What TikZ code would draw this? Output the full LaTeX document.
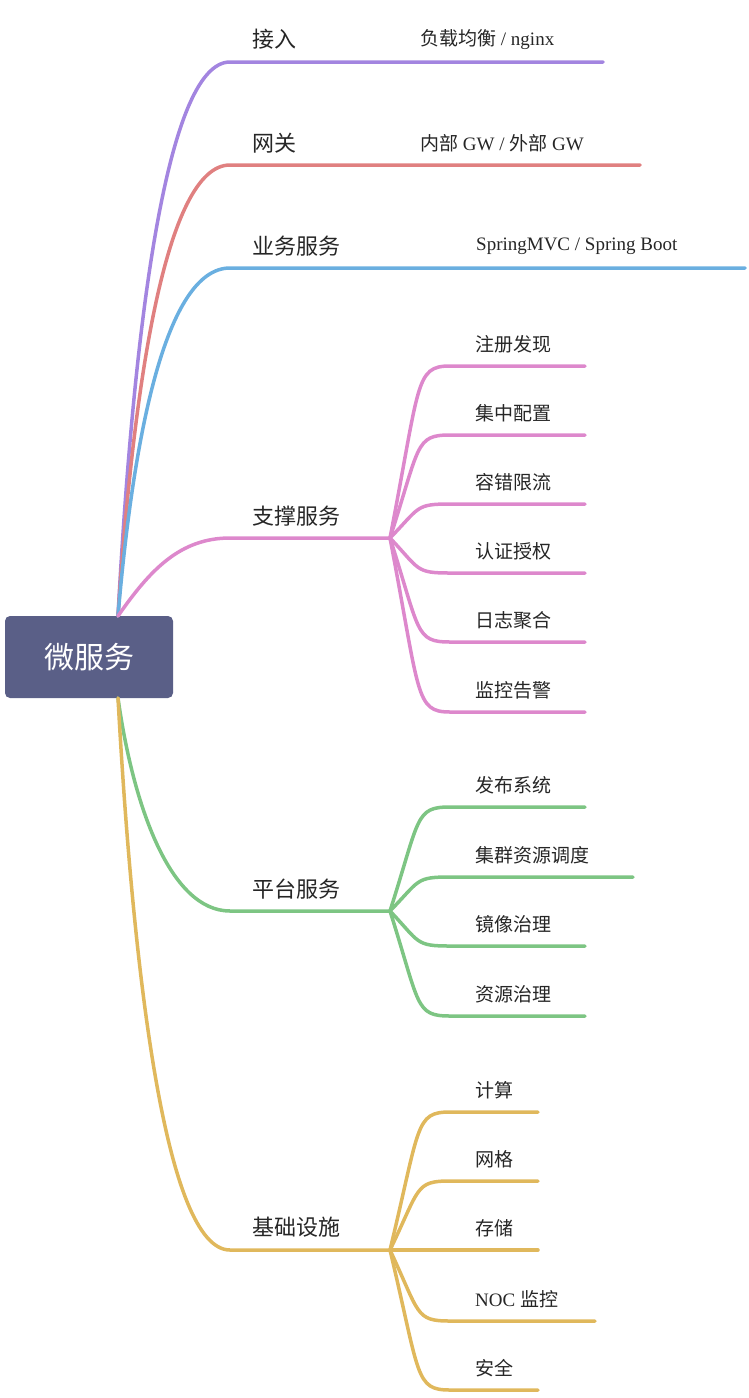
\documentclass[tikz,border=0pt]{standalone}
\usepackage{fontspec}
\setmainfont{Liberation Serif}
\newfontfamily\cjk{Noto Sans CJK SC}
\definecolor{cP}{HTML}{A385E0}
\definecolor{cR}{HTML}{E08080}
\definecolor{cB}{HTML}{6AAFE0}
\definecolor{cK}{HTML}{DD88CC}
\definecolor{cG}{HTML}{7DC583}
\definecolor{cY}{HTML}{E0B85C}
\definecolor{cRoot}{HTML}{5A5F87}
\begin{document}
\begin{tikzpicture}[x=1pt,y=-1pt,
  br/.style={line width=3.5pt,line cap=round},
  lone/.style={font=\cjk\fontsize{22}{24}\selectfont,anchor=south west,inner sep=0pt,text=black!85},
  ltwo/.style={font=\fontsize{19}{22}\selectfont,anchor=south west,inner sep=0pt,text=black!85}]
\useasboundingbox (0,0) rectangle (748,1398);
\node[fill=cRoot,rounded corners=5pt,minimum width=168pt,minimum height=82pt,text=white,font=\cjk\fontsize{30}{34}\selectfont] (root) at (89,657) {微服务};
\coordinate (s1) at (118,616); \coordinate (s2) at (118,698);
\newcommand\lone[5]{%
  \coordinate (#1a) at (230,#3); \coordinate (#1b) at (#5,#3);
  \node[lone] (#1) at ({252},{#3-12}) {#4};
}
\lone{jr}{cP}{62}{接入}{603}
\lone{wg}{cR}{165}{网关}{640}
\lone{yw}{cB}{268}{业务服务}{745}
\lone{zc}{cK}{538}{支撑服务}{390}
\lone{pt}{cG}{911}{平台服务}{390}
\lone{jc}{cY}{1250}{基础设施}{390}
\draw[br,cP] (s1) .. controls (133,338) and (165,62) .. (jra) -- (jrb);
\draw[br,cR] (s1) .. controls (133,390) and (165,165) .. (wga) -- (wgb);
\draw[br,cB] (s1) .. controls (133,440) and (165,268) .. (ywa) -- (ywb);
\draw[br,cK] (s1) .. controls (150,570) and (180,538) .. (zca) -- (zcb);
\draw[br,cG] (s2) .. controls (133,805) and (170,911) .. (pta) -- (ptb);
\draw[br,cY] (s2) .. controls (133,970) and (165,1250) .. (jca) -- (jcb);
\node[ltwo] (n1) at (420,50) {{\cjk 负载均衡} / nginx};
\node[ltwo] (n2) at (420,152) {{\cjk 内部} GW / {\cjk 外部} GW};
\node[ltwo] (n3) at (476,255) {SpringMVC / Spring Boot};
\newcommand\ctwo[6]{%
  \coordinate (#6a) at (450,#3); \coordinate (#6b) at (#4,#3);
  \node[ltwo,font=\cjk\fontsize{19}{22}\selectfont] (#6) at ({475},{#3-13}) {#5};
  \draw[br,#2] (#1b) .. controls ({420},{\ys+0.9*(#3-\ys)}) and (415,#3) .. (#6a) -- (#6b);
}
\def\ys{538}
\ctwo{zc}{cK}{366}{585}{注册发现}{k1}
\ctwo{zc}{cK}{435}{585}{集中配置}{k2}
\ctwo{zc}{cK}{504}{585}{容错限流}{k3}
\ctwo{zc}{cK}{573}{585}{认证授权}{k4}
\ctwo{zc}{cK}{642}{585}{日志聚合}{k5}
\ctwo{zc}{cK}{712}{585}{监控告警}{k6}
\def\ys{911}
\ctwo{pt}{cG}{807}{585}{发布系统}{g1}
\ctwo{pt}{cG}{877}{633}{集群资源调度}{g2}
\ctwo{pt}{cG}{946}{585}{镜像治理}{g3}
\ctwo{pt}{cG}{1016}{585}{资源治理}{g4}
\def\ys{1250}
\ctwo{jc}{cY}{1112}{538}{计算}{y1}
\ctwo{jc}{cY}{1181}{538}{网格}{y2}
\ctwo{jc}{cY}{1250}{538}{存储}{y3}
\ctwo{jc}{cY}{1321}{595}{\rmfamily NOC {\cjk 监控}}{y4}
\ctwo{jc}{cY}{1390}{538}{安全}{y5}
\end{tikzpicture}
\end{document}
